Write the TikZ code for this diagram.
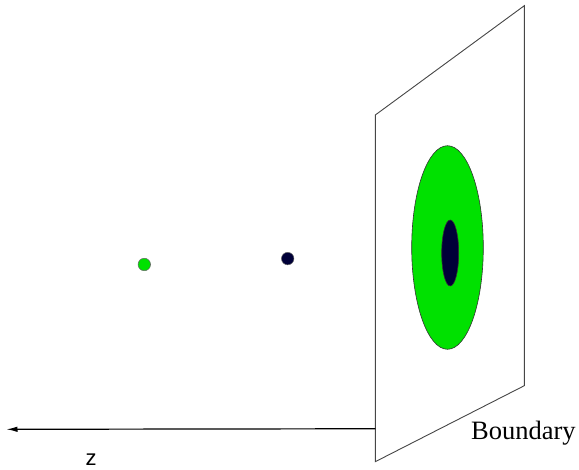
\documentclass[tikz,border=0pt]{standalone}
\usepackage{fontspec}
\setmainfont{Liberation Serif}
\setsansfont{Liberation Sans}
\usepackage{tikz}
\usetikzlibrary{shapes.geometric, arrows.meta, positioning, calc}
\definecolor{FigGreen}{RGB}{0,225,0}
\definecolor{FigNavy}{RGB}{0,0,56}
\definecolor{FigEdge}{RGB}{70,70,70}

\begin{document}
\begin{tikzpicture}[x=1pt, y=-1pt,
                plane/.style={draw=FigEdge, line width=0.9pt, fill=white},
                spot/.style={ellipse, draw=black!80, line width=0.6pt, inner sep=0pt},
                dot/.style={circle, draw=black!60, line width=0.5pt, inner sep=0pt, minimum size=12.5pt},
                arr/.style={-{Latex[length=11pt, width=5.5pt]}, line width=1.2pt, black},
                lbl/.style={inner sep=0pt}
            ]
                \useasboundingbox (0,0) rectangle (579,470);

                % boundary plane
                \coordinate (pTL) at (375.3,115);
                \coordinate (pTR) at (524.3,5.7);
                \coordinate (pBR) at (524.3,385.7);
                \coordinate (pBL) at (375.3,461.7);
                \draw[plane] (pTL) -- (pTR) -- (pBR) -- (pBL) -- cycle;

                % images on the boundary
                \node[spot, fill=FigGreen, minimum width=71.6pt, minimum height=203.6pt] (outer) at (447.5,247.5) {};
                \node[spot, fill=FigNavy, minimum width=17pt, minimum height=66pt] (inner) at (450.2,253) {};

                % sources
                \node[dot, fill=FigGreen] (src1) at (144.3,264.5) {};
                \node[dot, fill=FigNavy] (src2) at (287.7,258.6) {};

                % z axis
                \coordinate (zstart) at ($(pTL)!0.905!(pBL)$);
                \coordinate (ztip) at (6.5,429.3);
                \draw[arr] (zstart) -- (ztip);

                \node[lbl, anchor=base, font=\sffamily\fontsize{22}{26}\selectfont] (zlbl) at (91,466) {z};
                \node[lbl, anchor=base west, font=\fontsize{26.5}{30}\selectfont] (blbl) at (471,440) {Boundary};
            \end{tikzpicture}
\end{document}
